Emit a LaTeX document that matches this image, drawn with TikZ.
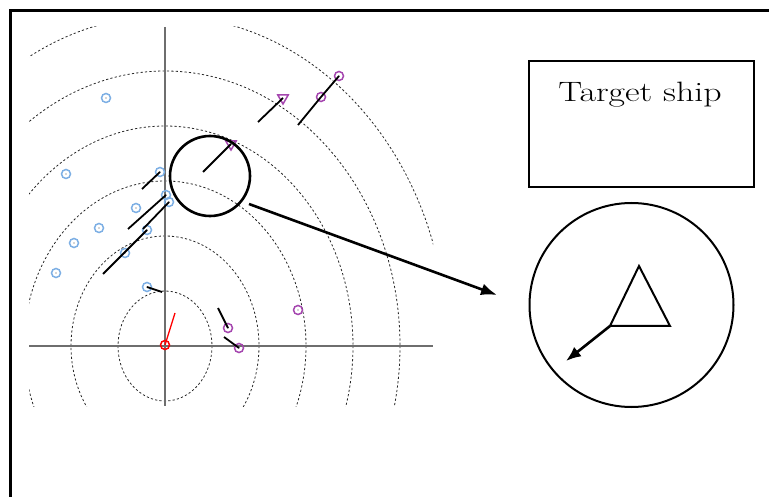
\documentclass[tikz,border=0pt]{standalone}
\usetikzlibrary{arrows.meta,shapes.geometric}
\definecolor{tblue}{RGB}{125,175,228}
\definecolor{tpurple}{RGB}{165,70,175}
\definecolor{axisgray}{RGB}{110,110,110}
\begin{document}
\begin{tikzpicture}[x=1pt,y=-1pt,
  dot/.style={path picture={\fill[black!70] (path picture bounding box.center) circle (0.7pt);}},
  bmark/.style={circle, draw=tblue, line width=1.5pt, minimum size=9pt, inner sep=0pt, dot},
  pmark/.style={circle, draw=tpurple, line width=1.5pt, minimum size=9pt, inner sep=0pt, dot},
  ptri/.style={regular polygon, regular polygon sides=3, shape border rotate=180, draw=tpurple, line width=1.5pt, minimum size=12pt, inner sep=0pt},
  rmark/.style={circle, draw=red, line width=1.5pt, minimum size=9pt, inner sep=0pt},
  track/.style={line width=1.8pt, black},
  ring/.style={dashed, dash pattern=on 2.2pt off 2.2pt, line width=0.8pt, black!85},
  axis/.style={line width=1.3pt, axisgray},
  frame/.style={line width=3pt, black},
  bigarrow/.style={line width=2.6pt, -{Latex[length=16pt,width=12pt]}}]
\useasboundingbox (0,0) rectangle (769,497);
\draw[frame] (10,497) -- (10,11) -- (769,11);
% radar rings
\begin{scope}
  \clip (29,27) rectangle (433,406);
  \foreach \k in {1,...,6}
    \draw[ring] (165,346) ellipse [x radius=47*\k, y radius=55*\k];
\end{scope}
\draw[axis] (29,346) -- (433,346);
\draw[axis] (165,27) -- (165,406);
% blue targets
\node[bmark] (b1) at (106,98) {};
\node[bmark] (b2) at (66,174) {};
\node[bmark] (b3) at (160,172) {};
\node[bmark] (b4) at (166,195) {};
\node[bmark] (b5) at (169,202) {};
\node[bmark] (b6) at (136,208) {};
\node[bmark] (b7) at (99,228) {};
\node[bmark] (b8) at (147,230) {};
\node[bmark] (b9) at (74,243) {};
\node[bmark] (b10) at (125,253) {};
\node[bmark] (b11) at (56,273) {};
\node[bmark] (b12) at (147,287) {};
\coordinate (e3) at (142,189);
\coordinate (e4) at (128,229);
\coordinate (e5) at (143,229);
\coordinate (e8) at (103,274);
\coordinate (e12) at (162,292);
\draw[track] (b3.center) -- (e3);
\draw[track] (b4.center) -- (e4);
\draw[track] (b5.center) -- (e5);
\draw[track] (b8.center) -- (e8);
\draw[track] (b12.center) -- (e12);
% purple targets
\node[ptri] (p1) at (283,98) {};
\node[pmark] (p2) at (321,97) {};
\node[pmark] (p3) at (339,76) {};
\node[ptri] (p4) at (231,144) {};
\node[pmark] (p5) at (298,310) {};
\node[pmark] (p6) at (228,328) {};
\node[pmark] (p7) at (239,348) {};
\coordinate (f1) at (258,122);
\coordinate (f2) at (298,125);
\coordinate (f4) at (203,172);
\coordinate (f6) at (218,308);
\coordinate (f7) at (224,337);
\draw[track] (p1.center) -- (f1);
\draw[track] (p2.center) -- (f2);
\draw[track] (p3.center) -- (p2.center);
\draw[track] (p4.center) -- (f4);
\draw[track] (p6.center) -- (f6);
\draw[track] (p7.center) -- (f7);
% own ship
\node[rmark] (own) at (165,345) {};
\coordinate (ownhead) at (175,313);
\draw[red, line width=1.3pt] (own.center) -- (ownhead);
% magnifier
\node[circle, draw, line width=2.6pt, minimum size=80pt, inner sep=0pt] (mag) at (210,176) {};
\coordinate (magtip) at (497,295);
\draw[bigarrow] (249,204) -- (magtip);
% legend box
\node[draw, line width=2pt, minimum width=225pt, minimum height=126pt, inner sep=0pt] (box) at (641.5,124) {};
\node[xscale=1.28, font=\fontsize{28}{34}\selectfont, inner sep=0pt] (title) at (640,95) {Target ship};
% zoomed target
\node[circle, draw, line width=2pt, minimum size=204pt, inner sep=0pt] (zoomc) at (631.5,305) {};
\coordinate (tA) at (639,266);
\coordinate (tB) at (610,326);
\coordinate (tC) at (670,326);
\draw[line width=2pt, line join=miter] (tA) -- (tB) -- (tC) -- cycle;
\coordinate (ztip) at (566,361);
\draw[line width=2.6pt, -{Latex[length=15pt,width=12pt]}] (tB) -- (ztip);
\end{tikzpicture}
\end{document}
